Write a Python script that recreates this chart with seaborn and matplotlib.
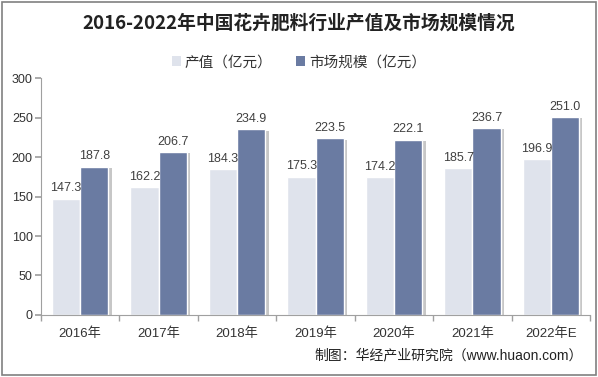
import matplotlib
matplotlib.use("Agg")
import matplotlib.pyplot as plt
import matplotlib.patheffects as pe
import seaborn as sns
import pandas as pd
import numpy as np
from matplotlib.patches import Patch

years = ["2016年", "2017年", "2018年", "2019年", "2020年", "2021年", "2022年E"]
output_value = [147.3, 162.2, 184.3, 175.3, 174.2, 185.7, 196.9]
market_size = [187.8, 206.7, 234.9, 223.5, 222.1, 236.7, 251.0]
series_names = ["产值（亿元）", "市场规模（亿元）"]
colors = ["#DFE3EC", "#6A7BA2"]

sns.set_theme(style="white")
plt.rcParams['font.family'] = ['Liberation Sans', 'Noto Sans CJK SC', 'DejaVu Sans']

df = pd.DataFrame({
    "year": years * 2,
    "value": output_value + market_size,
    "series": [series_names[0]] * len(years) + [series_names[1]] * len(years),
})

fig = plt.figure(figsize=(5.98, 3.77), dpi=100)
ax = fig.add_axes([0.0686, 0.1645, 0.918, 0.6285])

sns.barplot(data=df, x="year", y="value", hue="series", palette=colors,
            width=0.72, ax=ax, legend=False, saturation=1)

shadow = [pe.SimplePatchShadow(offset=(2.5, -1), shadow_rgbFace="#606060", alpha=0.35), pe.Normal()]
for p in ax.patches:
    p.set_path_effects(shadow)

for cont in ax.containers:
    ax.bar_label(cont, labels=[f"{v:.1f}" for v in cont.datavalues],
                 padding=3, fontsize=9, color="#404040")

ax.set_ylim(0, 300)
ax.set_yticks(range(0, 301, 50))
ax.set_xlim(-0.5, len(years) - 0.5)
ax.set_xlabel("")
ax.set_ylabel("")
for s in ["top", "right"]:
    ax.spines[s].set_visible(False)
for s in ["left", "bottom"]:
    ax.spines[s].set_color("#A0A0A0")
    ax.spines[s].set_linewidth(0.8)
ax.tick_params(axis="y", left=True, length=4, color="#A0A0A0", labelsize=9, labelcolor="#333333", pad=2)
ax.tick_params(axis="x", bottom=False, labelsize=9.5, labelcolor="#333333", pad=3)
ax.set_xticks(np.arange(len(years) + 1) - 0.5, minor=True)
ax.tick_params(axis="x", which="minor", bottom=True, length=4, color="#A0A0A0")

fig.text(0.5, 0.94, "2016-2022年中国花卉肥料行业产值及市场规模情况", ha="center", va="center",
         fontsize=13.5, fontweight="bold", color="#222222",
         family=['Noto Sans CJK SC', 'DejaVu Sans'])

handles = [Patch(facecolor=c, edgecolor="none") for c in colors]
fig.legend(handles, series_names, loc="center", bbox_to_anchor=(0.5, 0.835), ncol=2,
           frameon=False, handlelength=0.6, handleheight=0.6,
           columnspacing=1.6, handletextpad=0.3, labelcolor="#333333",
           prop={'family': ['Noto Sans CJK SC', 'DejaVu Sans'], 'size': 10.5})

fig.text(0.975, 0.058, "制图：华经产业研究院（www.huaon.com）", ha="right", va="center",
         fontsize=10, color="#222222")

border = plt.Rectangle((0.004, 0.004), 0.992, 0.992, transform=fig.transFigure,
                       fill=False, edgecolor="#808080", linewidth=1.2)
fig.add_artist(border)

fig.savefig("out.png", dpi=100, facecolor="white")
